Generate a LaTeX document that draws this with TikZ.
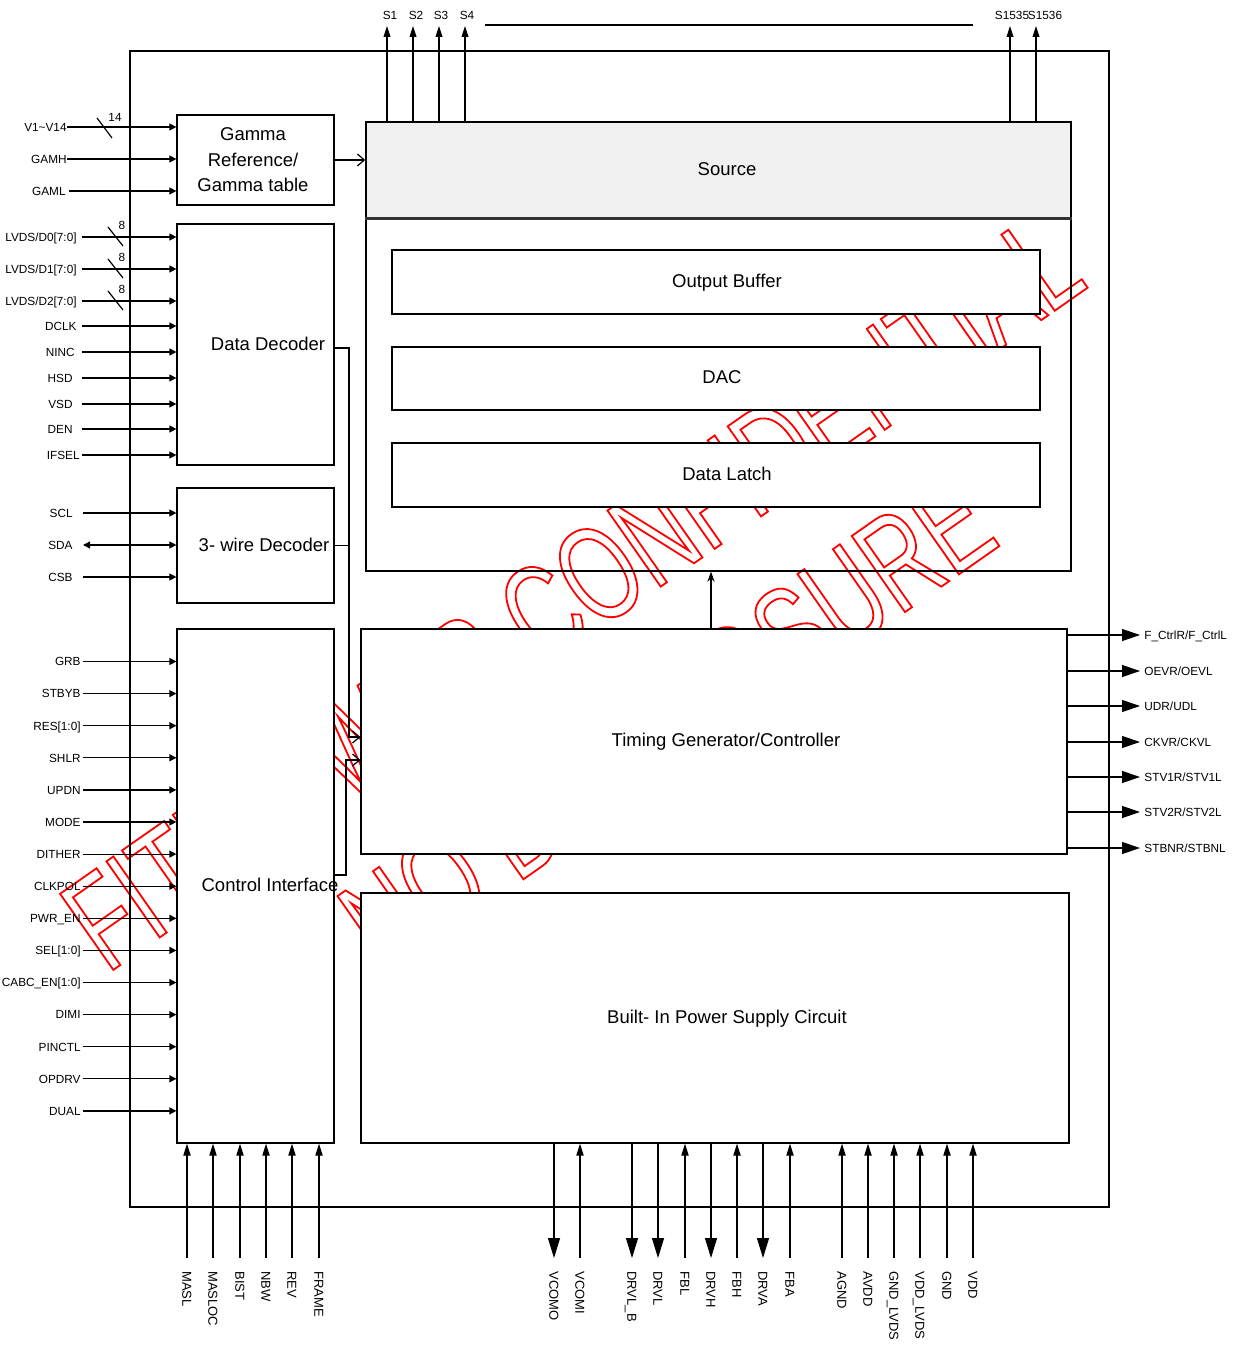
\documentclass[tikz,border=0pt]{standalone}
\usepackage{fontspec}
\setmainfont{Liberation Sans}
\newfontfamily\wmfont[FakeStretch=0.675]{Liberation Sans}
\usetikzlibrary{arrows.meta,fit,calc}
\definecolor{hdrgray}{HTML}{F0F0F0}
\newcommand\outlinetext[1]{\special{pdf:literal direct 1 Tr 0.9 w}#1\special{pdf:literal direct 0 Tr}}
\tikzset{
  wire/.style={line width=0.6pt},
  box/.style={draw, line width=0.6pt, fill=white, inner sep=0pt},
  lbl/.style={font=\fontsize{5.9}{7}\selectfont, inner sep=0pt, text height=4.3pt, text depth=0pt},
  slbl/.style={font=\fontsize{5.9}{7}\selectfont, inner sep=0pt},
  blbl/.style={font=\fontsize{6.5}{7.5}\selectfont, inner sep=0pt, rotate=-90, anchor=west, text height=4.7pt, text depth=0pt},
  ttl/.style={font=\fontsize{9.25}{12.75}\selectfont, inner sep=0pt, align=center, text depth=0pt},
  wmark/.style={font=\wmfont\fontsize{67.5}{80}\selectfont, inner sep=0pt, text=red},
  inarr/.style={wire, -{Triangle[length=3.5pt,width=3.5pt]}},
  biarr/.style={wire, {Triangle[length=3.5pt,width=3.5pt]}-{Triangle[length=3.5pt,width=3.5pt]}},
  outarr/.style={wire, -{Triangle[length=9pt,width=6pt]}},
  dnarr/.style={wire, -{Triangle[length=10pt,width=6pt]}},
  uparr/.style={wire, -{Triangle[length=6pt,width=3.6pt]}},
  sarr/.style={wire, -{Triangle[length=5.5pt,width=3.4pt]}},
  openarr/.style={wire, -{Straight Barb[length=3.5pt,width=6pt]}},
}
\begin{document}
\begin{tikzpicture}[x=0.5pt,y=-0.5pt]
\useasboundingbox (0,0) rectangle (1232,1347);

% watermark
\node[wmark, rotate=35] (wm1) at (572,592) {\outlinetext{FITIPOWER CONFIDENTIAL}};
\node[wmark, rotate=35] (wm2) at (667,722) {\outlinetext{NO DISCLOSURE}};

% outer chip outline
\node[draw, wire, inner sep=0pt, fit={(130,51)(1109,1207)}] (outer) {};

% source block
\node[draw, line width=0.7pt, inner sep=0pt, fit={(366,122)(1071,571)}] (src) {};
\node[draw, line width=0.7pt, fill=hdrgray, inner sep=0pt, fit={(366,122)(1071,218)}] (srchead) {};
\draw[line width=1.2pt, black!80] (srchead.south west) -- (srchead.south east);
\node[ttl] (tsrc) at (727,169) {Source};
\node[box, fit={(392,250)(1040,314)}] (ob) {};
\node[ttl] (tob) at (727,281) {Output Buffer};
\node[box, fit={(392,347)(1040,410)}] (dac) {};
\node[ttl] (tdac) at (722,377) {DAC};
\node[box, fit={(392,443)(1040,507)}] (dl) {};
\node[ttl] (tdl) at (727,474) {Data Latch};

% left blocks
\node[box, fit={(177,115)(334,205)}] (gamma) {};
\node[ttl] (tgamma) at (253,160) {Gamma\\Reference/\\Gamma table};
\node[box, fit={(177,224)(334,465)}] (dd) {};
\node[ttl] (tdd) at (268,344) {Data Decoder};
\node[box, fit={(177,488)(334,603)}] (tw) {};
\node[ttl] (ttw) at (264,545) {3- wire Decoder};
\node[box, fit={(177,629)(334,1143)}] (ci) {};

% timing and power
\node[box, fit={(361,629)(1067,854)}] (tg) {};
\node[ttl] (ttg) at (726,740) {Timing Generator/Controller};
\node[box, fit={(361,893)(1069,1143)}] (ps) {};
\node[ttl] (tps) at (727,1017) {Built- In Power Supply Circuit};
\node[ttl] (tci) at (270,885) {Control Interface};

% internal connections
\draw[openarr] (gamma.east) -- (srchead.west |- gamma.east);
\coordinate (j1) at (349,348);
\coordinate (t1) at (361,737);
\draw[openarr] (dd.east |- j1) -- (j1) |- (tg.west |- t1);
\draw[wire] (tw.east) -- (tw.east -| j1);
\coordinate (j2) at (346,875);
\coordinate (t2) at (361,760);
\draw[openarr] (ci.east |- j2) -- (j2) |- (tg.west |- t2);
\coordinate (t3) at (711,600);
\draw[wire, -{Stealth[length=5pt,width=3.6pt]}] (tg.north -| t3) -- (src.south -| t3);

% gamma inputs
\node[lbl, anchor=east] (lV) at (67,127) {V1\textasciitilde V14};
\draw[inarr] (lV.east) -- (gamma.west |- lV.east);
\draw[wire] (97,118) -- (112,138);
\node[slbl] (n14) at (115,117) {14};
\node[lbl, anchor=east] (lGH) at (67,159) {GAMH};
\draw[inarr] (lGH.east) -- (gamma.west |- lGH.east);
\node[lbl, anchor=east] (lGL) at (66,191) {GAML};
\draw[inarr] ([xshift=1.5pt]lGL.east) -- (gamma.west |- lGL.east);

% data decoder inputs
\foreach \n/\t/\y in {a/{LVDS/D0[7:0]}/237, b/{LVDS/D1[7:0]}/269, c/{LVDS/D2[7:0]}/301}{
  \node[lbl, anchor=east] (l\n) at (77,\y) {\t};
  \draw[inarr] ([xshift=2.5pt]l\n.east) -- (dd.west |- l\n.east);
  \draw[wire] ([shift={(108,-10)}]0,\y) -- ([shift={(123,9)}]0,\y);
  \node[slbl] (n\n) at (122,\y-12) {8};
}
\foreach \n/\t/\y/\e in {dclk/DCLK/326/77, ninc/NINC/352/75, hsd/HSD/378/73, vsd/VSD/404/73, den/DEN/429/73, ifsel/IFSEL/455/80}{
  \node[lbl, anchor=east] (l\n) at (\e,\y) {\t};
  \draw[inarr] (82,\y) coordinate (s\n) -- (dd.west |- s\n);
}

% 3-wire inputs
\node[lbl, anchor=east] (lscl) at (73,513) {SCL};
\draw[inarr] ([xshift=5pt]lscl.east) -- (tw.west |- lscl.east);
\node[lbl, anchor=east] (lsda) at (73,545) {SDA};
\draw[biarr] ([xshift=5pt]lsda.east) -- (tw.west |- lsda.east);
\node[lbl, anchor=east] (lcsb) at (73,577) {CSB};
\draw[inarr] ([xshift=5pt]lcsb.east) -- (tw.west |- lcsb.east);

% control interface inputs
\foreach \n/\t/\k in {grb/GRB/0, stbyb/STBYB/1, res/{RES[1:0]}/2, shlr/SHLR/3, updn/UPDN/4, mode/MODE/5, dither/DITHER/6, clkpol/CLKPOL/7, pwren/PWR\_EN/8, sel/{SEL[1:0]}/9, cabc/{CABC\_EN[1:0]}/10, dimi/DIMI/11, pinctl/PINCTL/12, opdrv/OPDRV/13, dual/DUAL/14}{
  \node[lbl, anchor=east] (l\n) at (81,661.5+32.1*\k) {\t};
  \draw[inarr] ([xshift=1pt]l\n.east) -- (ci.west |- l\n.east);
}

% control interface bottom inputs
\foreach \n/\t/\x in {masl/MASL/187, masloc/MASLOC/213, bist/BIST/240, nbw/NBW/266, rev/REV/292, frame/FRAME/319}{
  \coordinate (b\n) at (\x,1258);
  \draw[uparr] (b\n) -- (ci.south -| b\n);
  \node[blbl] (l\n) at (\x,1271) {\t};
}

% power supply pins, upward
\foreach \n/\t/\x in {vcomi/VCOMI/580, fbl/FBL/685, fbh/FBH/737, fba/FBA/790, agnd/AGND/842, avdd/AVDD/868, gndl/GND\_LVDS/894, vddl/VDD\_LVDS/920, gnd/GND/947, vdd/VDD/973}{
  \coordinate (b\n) at (\x,1258);
  \draw[uparr] (b\n) -- (ps.south -| b\n);
  \node[blbl] (l\n) at (\x,1271) {\t};
}
% power supply pins, downward
\foreach \n/\t/\x in {vcomo/VCOMO/554, drvlb/DRVL\_B/632, drvl/DRVL/658, drvh/DRVH/711, drva/DRVA/763}{
  \coordinate (b\n) at (\x,1258);
  \draw[dnarr] (ps.south -| b\n) -- (b\n);
  \node[blbl] (l\n) at (\x,1271) {\t};
}

% timing outputs
\foreach \n/\t/\y in {fc/{F\_CtrlR/F\_CtrlL}/635, oe/{OEVR/OEVL}/671, ud/{UDR/UDL}/706, ck/{CKVR/CKVL}/742, s1/{STV1R/STV1L}/777, s2/{STV2R/STV2L}/812, sb/{STBNR/STBNL}/848}{
  \coordinate (o\n) at (1140,\y);
  \draw[outarr] (tg.east |- o\n) -- (o\n);
  \node[lbl, anchor=west] (l\n) at (1144,\y) {\t};
}

% source outputs
\foreach \n/\t/\x/\lx in {1/S1/387/390, 2/S2/413/416, 3/S3/439/441, 4/S4/465/467, 5/S1535/1010/1012, 6/S1536/1036/1045}{
  \coordinate (s\n) at (\x,26);
  \draw[sarr] (srchead.north -| s\n) -- (s\n);
  \node[slbl] (ls\n) at (\lx,15) {\t};
}
\coordinate (d1) at (485,25);
\coordinate (d2) at (973,25);
\draw[wire] (d1) -- (d2);
\end{tikzpicture}
\end{document}
